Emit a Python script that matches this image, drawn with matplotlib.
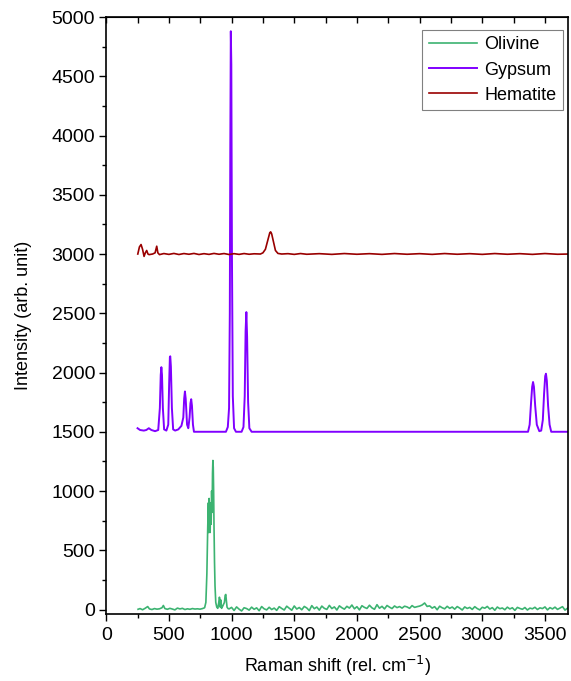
import numpy as np
import matplotlib.pyplot as plt
from matplotlib.ticker import MultipleLocator

plt.rcParams['font.family'] = ['Liberation Sans', 'DejaVu Sans']

# Olivine (offset 0)
olivine_shift = [254, 270, 290, 310, 331, 345, 365, 385, 405, 425, 445, 456, 468, 488,
                 508, 528, 548, 568, 588, 608, 628, 648, 668, 688, 708, 728, 748, 768,
                 785, 795, 803, 810, 815, 818, 821, 825, 829, 833, 837, 841, 845, 848,
                 851, 854, 857, 860, 864, 868, 874, 882, 890, 898, 903, 906, 910, 915,
                 920, 930, 943, 949, 954, 958, 964, 972]
olivine_int = [2, 8, -2, 10, 25, 5, 0, 8, 3, 6, 15, 34, 8, 2,
               10, 4, -3, 12, 5, 10, 0, 6, 2, 8, 4, 6, 3, 8,
               15, 60, 300, 700, 900, 650, 937, 800, 650, 900, 720, 1000, 820, 1150,
               1258, 1200, 1000, 700, 400, 200, 60, 20, 10, 60, 104, 90, 20, 80,
               10, 30, 60, 120, 127, 80, 20, 8]
# olivine baseline, 980 to 3680 every 20 rel. cm-1
olivine_noise_start, olivine_noise_step = 980, 20
olivine_noise = [5, 18, -8, 22, 3, -12, 15, 8, -5, 20,
                 2, 14, -10, 25, 6, -3, 19, 0, 12, -7,
                 24, 9, -4, 28, 11, -6, 30, 4, 17, -2,
                 26, 13, -9, 33, 7, 21, -5, 29, 10, 1,
                 35, 8, 22, -4, 31, 15, 3, 27, 12, 38,
                 6, 24, -3, 32, 18, 9, 36, 14, 2, 41,
                 11, 27, 5, 34, 20, 8, 30, 16, 25, 12,
                 28, 22, 10, 33, 18, 24, 29, 38, 55, 26,
                 31, 12, 24, -2, 28, 15, 6, 27, 10, 21,
                 3, 25, 12, -4, 22, 9, 18, 1, 24, 8,
                 -3, 19, 11, 26, 4, 16, -6, 21, 7, 13,
                 -2, 20, 5, 15, -7, 18, 9, 2, 17, -4,
                 12, 6, 19, 0, 14, 8, 22, -3, 16, 5,
                 20, 1, 13, 24, -5, 11]

# Gypsum (offset 1500)
gypsum_shift = [250, 270, 300, 320, 340, 360, 390, 415, 428, 435, 440, 445, 452, 462,
                480, 495, 502, 508, 511, 516, 524, 534, 550, 575, 600, 615, 622, 628,
                634, 645, 655, 665, 672, 678, 684, 692, 700, 955, 970, 980, 986, 990,
                994, 998, 1003, 1010, 1020, 1035, 1080, 1095, 1105, 1112, 1118, 1124,
                1132, 1142, 1160, 3365, 3378, 3390, 3398, 3405, 3412, 3422, 3435, 3455,
                3470, 3483, 3493, 3502, 3508, 3515, 3525, 3537, 3550, 3690]
gypsum_int = [1530, 1515, 1510, 1515, 1530, 1515, 1505, 1515, 1700, 1980, 2045, 1980, 1700, 1520,
              1510, 1560, 1900, 2130, 2137, 2050, 1700, 1520, 1510, 1520, 1550, 1620, 1780, 1840,
              1780, 1560, 1530, 1620, 1740, 1775, 1720, 1560, 1500, 1500, 1540, 1700, 2500, 3900,
              4880, 4600, 3000, 1800, 1530, 1500, 1500, 1540, 1800, 2350, 2510, 2300,
              1750, 1530, 1500, 1500, 1560, 1760, 1880, 1920, 1880, 1720, 1560, 1505,
              1510, 1600, 1820, 1970, 1990, 1930, 1720, 1560, 1500, 1500]

# Hematite (offset 3000)
hematite_shift = [252, 265, 278, 290, 302, 312, 323, 333, 342, 370, 390, 403, 412, 425,
                  460, 500, 540, 580, 620, 660, 700, 740, 780, 820, 860, 900, 940, 980,
                  1020, 1060, 1100, 1140, 1180, 1230, 1250, 1270, 1290, 1305, 1312, 1320,
                  1335, 1350, 1370, 1400, 1450, 1500, 1550, 1600, 1700, 1800, 1900, 2000,
                  2100, 2200, 2300, 2400, 2500, 2600, 2700, 2800, 2900, 3000, 3100, 3200,
                  3300, 3400, 3500, 3600, 3690]
hematite_int = [3000, 3060, 3080, 3040, 2980, 3010, 3030, 3000, 2995, 3000, 3010, 3066, 3010, 2995,
                3004, 2997, 3005, 2996, 3004, 2998, 3005, 2996, 3003, 2997, 3005, 2998, 3004, 2996,
                3003, 2997, 3004, 2998, 3002, 3000, 3010, 3040, 3120, 3180, 3187, 3170,
                3100, 3030, 3005, 3000, 3003, 2997, 3004, 2998, 3003, 2997, 3004, 2998,
                3003, 2997, 3004, 2998, 3003, 2997, 3004, 2998, 3003, 2997, 3004, 2998,
                3003, 2997, 3004, 2998, 3000]

noise_shift = olivine_noise_start + olivine_noise_step * np.arange(len(olivine_noise))
ol_x = np.concatenate([olivine_shift, noise_shift])
ol_y = np.concatenate([olivine_int, olivine_noise])

fig = plt.figure(figsize=(5.71, 6.81), dpi=100)
ax = fig.add_axes([0.186, 0.098, 0.809, 0.877])

ax.plot(ol_x, ol_y, color='#3cb371', lw=1.2, label='Olivine')
ax.plot(gypsum_shift, gypsum_int, color='#8000ff', lw=1.4, label='Gypsum')
ax.plot(hematite_shift, hematite_int, color='#990000', lw=1.2, label='Hematite')

ax.set_xlim(0, 3685)
ax.set_ylim(-40, 5000)
ax.xaxis.set_major_locator(MultipleLocator(500))
ax.xaxis.set_minor_locator(MultipleLocator(250))
ax.yaxis.set_major_locator(MultipleLocator(500))
ax.yaxis.set_minor_locator(MultipleLocator(250))
ax.tick_params(axis='both', which='major', direction='out', length=5, width=1, labelsize=14)
ax.tick_params(axis='both', which='minor', direction='out', length=3, width=1)
ax.tick_params(axis='x', which='major', pad=4)
ax.tick_params(axis='y', which='major', pad=3)
ax.tick_params(top=False, right=False, which='both')
for s in ax.spines.values():
    s.set_linewidth(1.2)

# top axis: inward ticks, no labels
top = ax.secondary_xaxis('top')
top.xaxis.set_major_locator(MultipleLocator(500))
top.xaxis.set_minor_locator(MultipleLocator(250))
top.tick_params(which='both', direction='in', length=4, width=1, labeltop=False)

ax.set_xlabel('Raman shift (rel. cm$^{-1}$)', fontsize=13, labelpad=7)
ax.set_ylabel('Intensity (arb. unit)', fontsize=13, labelpad=14)

leg = ax.legend(loc='upper right', bbox_to_anchor=(0.989, 0.978), fontsize=13,
                fancybox=False, framealpha=1, edgecolor='#808080', borderpad=0.35,
                labelspacing=0.45, handlelength=2.7, handletextpad=0.4, borderaxespad=0)
leg.get_frame().set_linewidth(0.8)

fig.savefig('out.png', dpi=100)
